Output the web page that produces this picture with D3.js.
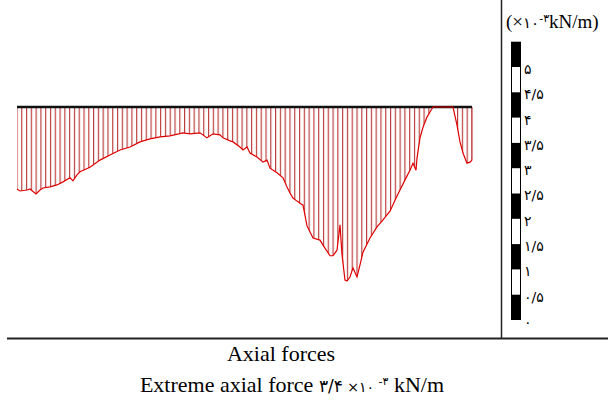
<!DOCTYPE html>
<html><head><meta charset="utf-8">
<script src="https://cdn.jsdelivr.net/npm/d3@7"></script>
<style>
html,body{margin:0;padding:0;background:#fff;}
svg{display:block;}
</style></head>
<body>
<svg id="c" width="608" height="401"></svg>
<script>
// Station along member (arbitrary units) and axial force (x10^-3 kN/m)
const stations = [0,3,10,13,19,23,26,33,40,46,53,56,60,63,73,83,93,103,113,123,133,143,153,166,173,183,190,196,203,206,213,216,223,226,230,233,240,246,250,253,260,266,270,273,276,280,283,286,290,296,303,306,313,316,320,323,325,328,330,333,336,340,343,346,353,360,366,373,380,383,388,393,396,399,400,403,406,410,413,416,436,440,443,446,450,453,455];
const forces = [1.62,1.66,1.64,1.62,1.72,1.64,1.60,1.58,1.54,1.48,1.40,1.46,1.34,1.28,1.19,1.05,0.95,0.85,0.79,0.69,0.63,0.59,0.57,0.51,0.53,0.51,0.61,0.53,0.55,0.61,0.67,0.69,0.79,0.85,0.79,0.91,0.99,1.09,1.05,1.21,1.30,1.40,1.58,1.70,1.80,1.86,1.90,1.94,2.35,2.59,2.63,2.73,2.94,2.94,2.83,2.33,2.92,3.42,3.44,3.36,3.18,3.36,3.12,2.87,2.59,2.37,2.23,2.06,1.76,1.64,1.44,1.25,1.11,1.25,1.01,0.61,0.40,0.20,0.10,0,0,0.36,0.69,0.91,1.11,1.09,1.05];
const scaleTicks = [0,0.5,1,1.5,2,2.5,3,3.5,4,4.5,5];
const scaleLabels = ["۰","۰/۵","۱","۱/۵","۲","۲/۵","۳","۳/۵","۴","۴/۵","۵"];
const scaleSegments = [0,0.5,1,1.5,2,2.5,3,3.5,4,4.5,5];
const hatchCount = 95;

const svg = d3.select("#c");
const serif = "'Liberation Serif','Times New Roman','DejaVu Serif',serif";
const fa = "'DejaVu Sans',sans-serif";

const x = d3.scaleLinear().domain([0,455]).range([17,472]);
const y = d3.scaleLinear().domain([0,5]).range([107,360]);

// hatch pattern
const step = (x(455)-x(0))/hatchCount;
const defs = svg.append("defs");
const pat = defs.append("pattern").attr("id","hatch")
  .attr("patternUnits","userSpaceOnUse")
  .attr("x", x(0)-0.6).attr("y",0)
  .attr("width", step).attr("height", 401);
pat.append("line").attr("x1",0.6).attr("x2",0.6).attr("y1",0).attr("y2",401)
  .attr("stroke","#b83030").attr("stroke-width",1.1);

const pts = stations.map((s,i)=>[s,forces[i]]);
const area = d3.area().x(d=>x(d[0])).y0(y(0)).y1(d=>y(d[1]));
svg.append("path").datum(pts).attr("d",area).attr("fill","url(#hatch)");
svg.append("line").attr("x1",x(455)).attr("x2",x(455)).attr("y1",y(0)).attr("y2",y(forces[forces.length-1]))
  .attr("stroke","#b83030").attr("stroke-width",1.1);

// baseline
svg.append("line").attr("x1",x(0)).attr("x2",x(455)).attr("y1",y(0)).attr("y2",y(0))
  .attr("stroke","#111").attr("stroke-width",2.5);

// curve
const line = d3.line().x(d=>x(d[0])).y(d=>y(d[1]));
svg.append("path").datum(pts).attr("d",line).attr("fill","none")
  .attr("stroke","#e00000").attr("stroke-width",1.2);

// frame lines
svg.append("line").attr("x1",501.5).attr("x2",501.5).attr("y1",0).attr("y2",339)
  .attr("stroke","#222").attr("stroke-width",1.5);
svg.append("line").attr("x1",7).attr("x2",608).attr("y1",338.5).attr("y2",338.5)
  .attr("stroke","#222").attr("stroke-width",2);

// scale bar
const sy = d3.scaleLinear().domain([0,5]).range([320,67]);
const bar = svg.append("g");
bar.append("rect").attr("x",511).attr("width",10)
  .attr("y",sy(5.5)).attr("height",sy(0)-sy(5.5)).attr("fill","#000");
bar.selectAll("rect.w").data(scaleSegments.filter((d,i)=>i%2===1)).join("rect")
  .attr("class","w").attr("x",512).attr("width",8)
  .attr("y",d=>sy(d+0.5)).attr("height",d=>sy(d)-sy(d+0.5))
  .attr("fill","#fff");

const ax = d3.axisRight(sy).tickValues(scaleTicks)
  .tickFormat((d,i)=>scaleLabels[i]).tickSize(0).tickPadding(0);
const g = svg.append("g").attr("transform","translate(524,2)").call(ax);
g.select(".domain").remove();
g.selectAll("text").attr("font-family",fa).attr("font-size",14).attr("fill","#000");

// unit header
const hdr = svg.append("text").attr("x",506).attr("y",28)
  .attr("font-family",serif).attr("font-size",19).attr("fill","#000");
hdr.append("tspan").text("(×");
hdr.append("tspan").attr("font-family",fa).attr("font-size",15).text("۱۰");
hdr.append("tspan").attr("dy",-6).attr("font-family",fa).attr("font-size",11).text("-۳");
hdr.append("tspan").attr("dy",6).text("kN/m)");

// captions
svg.append("text").attr("x",281).attr("y",361).attr("text-anchor","middle")
  .attr("font-family",serif).attr("font-size",22).attr("fill","#000").text("Axial forces");
const cap = svg.append("text").attr("x",292).attr("y",392).attr("text-anchor","middle")
  .attr("font-family",serif).attr("font-size",22).attr("fill","#000");
cap.append("tspan").text("Extreme axial force ");
cap.append("tspan").attr("font-family",fa).attr("font-size",17).text("۳/۴");
cap.append("tspan").attr("font-family",fa).attr("font-size",14).text(" ×۱۰ ");
cap.append("tspan").attr("dy",-7).attr("font-family",fa).attr("font-size",11).text("-۳");
cap.append("tspan").attr("dy",7).text(" kN/m");
</script>
</body></html>
